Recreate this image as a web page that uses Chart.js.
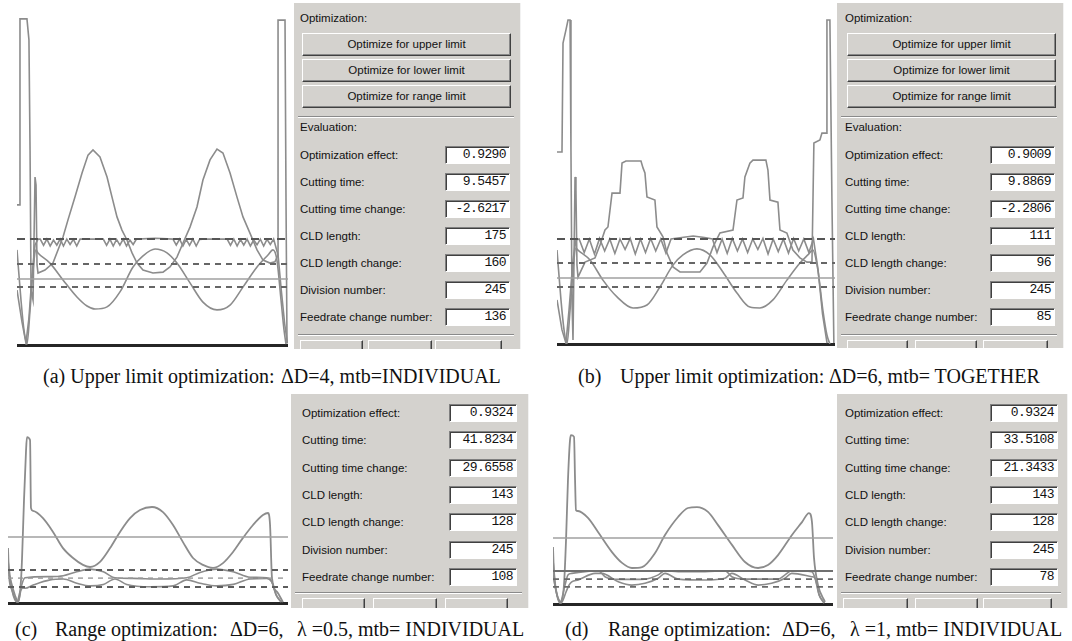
<!DOCTYPE html>
<html>
<head>
<meta charset="utf-8">
<script src="https://cdn.jsdelivr.net/npm/chart.js@4.4.0/dist/chart.umd.min.js"></script>
<style>
body { margin: 0; width: 1072px; height: 641px; background: #fff; position: relative; overflow: hidden; font-family: "Liberation Sans", Arial, sans-serif; }
canvas { position: absolute; }
.panel { position: absolute; background: #d4d2ce; overflow: hidden; font-size: 11.5px; color: #111; border-right: 1px solid #f2f2f2; }
.lbl { position: absolute; white-space: nowrap; line-height: 14px; }
.btn { position: absolute; height: 23px; box-sizing: border-box; border: 1px solid; border-color: #fff #404040 #404040 #fff; box-shadow: inset -1px -1px 0 #888; text-align: center; line-height: 20px; white-space: nowrap; }
.box { position: absolute; height: 18px; box-sizing: border-box; background: #fff; border: 1px solid; border-color: #808080 #fff #fff #808080; box-shadow: inset 1px 1px 0 #404040; text-align: right; padding-right: 3px; font-family: "Liberation Mono", monospace; font-size: 13px; letter-spacing: -0.6px; line-height: 16px; }
.sep { position: absolute; height: 0; border-top: 1px solid #8a8a8a; border-bottom: 1px solid #fff; }
.cap { position: absolute; font-family: "Liberation Serif", "Times New Roman", serif; font-size: 20px; white-space: pre; line-height: 20px; color: #111; }
</style>
</head>
<body>
<canvas id="chartA" width="271" height="348" style="left:17px;top:0px"></canvas>
<canvas id="chartB" width="278" height="347" style="left:557px;top:0px"></canvas>
<canvas id="chartC" width="280" height="216" style="left:8px;top:390px"></canvas>
<canvas id="chartD" width="280" height="217" style="left:553px;top:390px"></canvas>
<script>
// x = division index (0..245), y = feedrate level (arbitrary units)
const DIV_MAX = 245;

// (a) upper limit, dD=4, INDIVIDUAL
const aFeed = [[0,46.7],[2.7,46.7],[2.7,108.7],[9,108.7],[10.8,101.7],[11.8,65],[12.7,18.3],[14.5,15],[16.3,56],[17.2,53.3],[18.1,26.7],[19,24],[25.3,25],[32.5,27.3],[41.6,36],[46.1,41.7],[52.4,49.3],[58.8,57.3],[64.2,63.3],[68.7,65],[75,62.7],[81.4,56],[85.9,49.3],[90.4,42.7],[94.9,38.3],[99.4,35],[104,30.7],[108.5,27.3],[113.9,25],[122.9,24],[132,24.3],[138.3,26],[144.6,29.3],[150.1,34],[156.4,39.3],[162.7,46],[168.1,55],[174.5,61.7],[180.8,65.3],[186.2,64],[192.6,57.3],[198.9,49.3],[204.3,42.7],[210.6,37.3],[217,31.7],[222.4,28.3],[228.7,27.3],[233.2,27.7],[236,30],[236,108.3],[242.3,108.3],[243.2,48.3],[244.1,0.7]];
const aSine = [[0,31.7],[3.6,15],[6.3,5],[9,0.3],[11.8,11.7],[14.5,25],[17.2,31.7],[19,30.7],[29.8,27.3],[41.6,21.7],[54.2,16],[63.3,13],[70.5,12],[81.4,12.7],[93.1,17.7],[104.9,26],[113.9,29.7],[124.8,32],[135.6,30.7],[144.6,27.3],[156.4,20.7],[168.1,14.3],[180.8,11.7],[192.6,13.3],[204.3,19.3],[217,26],[226.9,30],[231.4,31.7],[235,28.3],[238.7,15],[241.4,5],[243.2,0.3]];
const aWig = [[0,18.3],[4.5,7.7],[8.1,0.7],[10.8,9],[13.6,23.3],[16.3,33.3],[19,35.3],[21,35.3],[24,33.2],[27,35.3],[30,33],[33,35],[36,33.3],[39,35.3],[42,33],[45,35.3],[48,33.5],[51,35.2],[54,33],[57,35.3],[78,35.3],[81,33.2],[84,35.3],[87,33],[90,35.2],[93,33.3],[96,35.3],[99,33],[102,35],[105,33.5],[108,35.3],[125,35.6],[141,35.3],[144,33.3],[147,35.3],[150,33],[153,35.2],[156,33.2],[159,35.3],[162,33],[165,35.2],[168,35.3],[190,35.3],[193,33.2],[196,35.3],[199,33],[202,35.2],[205,33.3],[208,35.3],[211,33],[214,35],[217,33.4],[220,35.3],[223,33],[226,35.2],[229,33.5],[232,35.3],[236,30],[239,18],[242,7],[244.5,0.5]];
const aLevels = [35.3, 27, 22, 19.3];

// (b) upper limit, dD=6, TOGETHER
const bFeed = [[0,64],[4.4,64],[5.3,100.3],[7.9,104.7],[9.7,108],[11.5,108],[12.3,64.7],[13.2,14.7],[14.1,1.3],[15.9,55.7],[16.7,51.3],[17.6,26.3],[18.5,22.3],[24.7,27.3],[33.5,28.7],[37.9,33],[42.3,38],[44.9,39],[48.5,50.3],[55.5,50.3],[57.3,60.3],[60.8,61],[74,61],[75.8,58.7],[77.5,57],[79.3,49],[86.3,48],[88.1,39],[93.4,35.7],[96.9,30.3],[102.2,25.7],[108.4,24],[126,24],[132.2,27],[137.4,32.3],[143.6,37],[155.1,38],[158.6,48],[163.9,48.7],[165.6,55.7],[170,60.3],[172.7,61.3],[184.1,61.3],[185.9,58],[187.7,48],[194.7,47.3],[196.5,38],[202.6,37],[207.9,31.3],[214.1,28.7],[220.3,27.3],[224.7,27.3],[226.4,67],[231.7,68],[233.5,70.3],[237.9,70.3],[237.9,108],[240.5,108],[242.3,48],[244,0.3]];
const bSine = [[0,31.3],[3.5,14.7],[6.2,4.7],[8.8,0],[11.5,11.3],[14.1,24.7],[16.7,32],[18.5,31.3],[29.1,28],[40.5,21.3],[52.9,15.7],[67,12],[79.3,13],[90.7,19],[102.2,26.3],[111,29.7],[123.3,31.7],[134.8,29.7],[146.2,24],[158.6,17],[170,12.3],[178.8,12],[190.3,14.7],[202.6,21.3],[214.1,27],[221.1,29.7],[225.5,31.3],[229.9,24.7],[234.3,11.3],[237.9,3],[240.5,0]];
const bWig = [[0,14.7],[4.4,4.7],[7.9,0.3],[10.6,11.3],[14.1,28],[16.7,34.7],[19.5,35],[24,30.5],[28.5,35],[33,30],[37.5,35.2],[42,31],[46.5,35],[51,30.2],[55.5,35],[60,31.5],[64.5,35.2],[69,30],[73.5,35],[78,30.5],[82.5,35.2],[87,31],[91.5,35],[96,30.3],[100.5,35],[110,35.5],[120,36],[130,35.5],[137,35],[141,30.5],[145.5,35],[150,30.2],[154.5,35.2],[159,31],[163.5,35],[168,30.5],[172.5,35],[177,31.5],[181.5,35.2],[186,30],[190.5,35],[195,30.8],[199.5,35],[204,30.3],[208.5,35.2],[213,31],[217.5,35],[222,30.5],[226,35],[230,25],[234,10],[238,0.3]];
const bLevels = [35, 27, 22, 19];

// (c) range, dD=6, lambda=0.5
const cMain = [[0,18.3],[0.9,9.3],[3.5,4.3],[8.8,0.3],[11.4,7.7],[12.3,15],[14,34.3],[15.8,51],[16.6,55.3],[19.3,54.3],[20.1,31.7],[21.9,30.7],[30.6,28.3],[39.4,23.7],[48.1,18.3],[56.9,15],[65.6,12.7],[71.8,12],[80.5,13.7],[89.3,18.3],[98,23.7],[106.8,28.3],[115.5,31],[126,32],[135.6,30.3],[144.4,26],[153.1,20.3],[161.9,15],[170.6,12.7],[179.4,11.7],[188.1,13.3],[196.9,17],[205.6,21.7],[214.4,26],[223.1,29.3],[227.5,30],[229.3,26],[231,8.3],[235.4,3.7],[240.6,0.3]];
const cUpper = [[1.1,9.3],[6.1,2.7],[9,0.4],[12,6],[14.9,8.4],[36.8,8.8],[48.4,9.1],[60.1,10.4],[71.8,11.3],[83.4,10.4],[93.6,8.4],[109.6,8.2],[133,8],[156.4,8.4],[168,10.2],[182.6,11.3],[197.1,10.4],[211.8,8.6],[226.4,8.4],[230.7,7.1],[234.5,2.7],[238.9,0.3]];
const cLower = [[0,14.3],[3.5,4.3],[7.9,0.3],[10.5,3.7],[13.1,5],[14.9,4.9],[22.1,6],[36.8,7.7],[48.4,8],[60.1,6.6],[71.8,5.7],[83.4,6.2],[93.6,8],[103.9,6.2],[124.3,5.4],[144.6,5.7],[156.4,7.7],[168,6.6],[182.6,5.7],[197.1,6.2],[211.8,8],[226.4,8.2],[230.7,7.1],[235,2.5],[239.5,0.3]];
const cLevels = [22, 11, 8.3, 5.3];

// (d) range, dD=6, lambda=1
const dMain = [[0,19],[0.9,9.7],[2.6,4.7],[7,0.7],[9.6,6.3],[11.4,21.3],[13.1,41.3],[14.9,54.7],[15.8,56.3],[18.4,55.7],[19.3,41.3],[20.1,31.3],[21.9,31],[30.6,28.7],[39.4,24],[51.6,17.3],[60.4,13.7],[69.1,12],[77.9,12.3],[89.3,17],[98,23],[109.4,29],[118.1,32],[126,32.3],[135.6,30.7],[144.4,26.3],[156.6,19.7],[168,14],[179.4,12],[188.1,13],[196.9,16.3],[209.1,23],[217.9,27.3],[224,30.3],[226.6,27.3],[228.4,15.3],[231.9,6.3],[238,0.7]];
const dUpper = [[0,14.7],[2.6,4.7],[6.1,0.3],[10.5,6.3],[13.1,9.7],[16.4,10.2],[28,10.8],[39.6,11.1],[45.5,9.1],[57.1,8.2],[80.5,8.3],[92.1,9.7],[98,11.1],[109.6,10.8],[133,10.8],[150.5,11.1],[156.4,9.1],[168,8.3],[197.1,8.3],[203,9.7],[208.9,11.1],[226.4,10.8],[229.3,8.6],[232.8,3],[237.1,0.3]];
const dLower = [[0,9.7],[3.5,3],[7,0.3],[11.4,4],[14,6.3],[16.4,7.4],[22.1,8],[36.8,10.2],[42.6,10.2],[57.1,7.4],[68.9,6.3],[80.5,6.9],[92.1,8.6],[98,10.2],[109.6,8.3],[133,8],[150.5,8.6],[156.4,10.2],[168,8],[179.6,6.3],[191.3,6.9],[203,8.6],[208.9,10.2],[226.4,9.1],[229.3,8.6],[233,3],[237.5,0.3]];
const dLevels = [22, 11, 8.3, 5.7];

// right-hand evaluation panels
const rowLabels = ['Optimization effect:', 'Cutting time:', 'Cutting time change:', 'CLD length:', 'CLD length change:', 'Division number:', 'Feedrate change number:'];
const buttonLabels = ['Optimize for upper limit', 'Optimize for lower limit', 'Optimize for range limit'];
const aValues = ['0.9290', '9.5457', '-2.6217', '175', '160', '245', '136'];
const bValues = ['0.9009', '9.8869', '-2.2806', '111', '96', '245', '85'];
const cValues = ['0.9324', '41.8234', '29.6558', '143', '128', '245', '108'];
const dValues = ['0.9324', '33.5108', '21.3433', '143', '128', '245', '78'];

const CURVE = '#8c8c8c';

function lineSet(pts, color, width, dash, smooth) {
    return {
        data: pts.map(p => ({ x: p[0], y: p[1] })),
        borderColor: color,
        borderWidth: width,
        borderDash: dash || [],
        pointRadius: 0,
        fill: false,
        tension: 0,
        cubicInterpolationMode: smooth ? 'monotone' : 'default'
    };
}

function levelSets(levels, styles) {
    return levels.map((v, i) => lineSet([[0, v], [DIV_MAX, v]], styles[i][0], styles[i][1], styles[i][2]));
}

function makeChart(id, yMax, datasets) {
    const ctx = document.getElementById(id).getContext('2d');
    return new Chart(ctx, {
        type: 'line',
        data: { datasets: datasets },
        options: {
            responsive: false,
            animation: false,
            events: [],
            layout: { padding: { left: 0, right: 0, top: 0, bottom: 3 } },
            plugins: { legend: { display: false }, tooltip: { enabled: false } },
            scales: {
                x: {
                    type: 'linear', min: 0, max: DIV_MAX,
                    grid: { display: false, drawTicks: false },
                    ticks: { display: false },
                    border: { display: true, color: '#262626', width: 3 }
                },
                y: { min: 0, max: yMax, display: false }
            }
        }
    });
}

const upperStyles = [['#555', 2, [8, 5]], ['#666', 2.2, [6, 5]], ['#a0a0a0', 1.6, []], ['#666', 2, [6, 5]]];

makeChart('chartA', 115, [
    ...levelSets(aLevels, upperStyles),
    lineSet(aWig, CURVE, 1.6),
    lineSet(aSine, CURVE, 1.6, [], true),
    lineSet(aFeed, CURVE, 1.6)
]);

makeChart('chartB', 114.67, [
    ...levelSets(bLevels, upperStyles),
    lineSet(bWig, CURVE, 1.6),
    lineSet(bSine, CURVE, 1.6, [], true),
    lineSet(bFeed, CURVE, 1.6)
]);

makeChart('chartC', 71, [
    ...levelSets(cLevels, [['#a0a0a0', 1.6, []], ['#5c5c5c', 2.2, [6, 5]], ['#9a9a9a', 1.4, [5, 5]], ['#5c5c5c', 2, [6, 5]]]),
    lineSet(cUpper, CURVE, 1.6, [], true),
    lineSet(cLower, CURVE, 1.6, [], true),
    lineSet(cMain, CURVE, 1.8, [], true)
]);

makeChart('chartD', 71.33, [
    ...levelSets(dLevels, [['#a0a0a0', 1.6, []], ['#707070', 2, []], ['#6a6a6a', 1.8, [6, 5]], ['#6a6a6a', 1.8, [6, 5]]]),
    lineSet(dUpper, CURVE, 1.6, [], true),
    lineSet(dLower, CURVE, 1.6, [], true),
    lineSet(dMain, CURVE, 1.8, [], true)
]);

// the dialog panels beside each plot
const panels = [
    { left: 294, top: 3, w: 226, h: 346, pad: 6, btnX: 8, btnW: 209, boxX: 151, boxW: 65, rowY: 152, step: 27, seps: [113, 331], foot: [[6, 63], [74, 64], [141, 67]], footY: 337, values: aValues, full: true },
    { left: 837, top: 3, w: 226, h: 345, pad: 8, btnX: 10, btnW: 209, boxX: 153, boxW: 65, rowY: 152, step: 27, seps: [113, 331], foot: [[10, 61], [78, 62], [146, 65]], footY: 337, values: bValues, full: true },
    { left: 291, top: 394, w: 237, h: 214, pad: 11, boxX: 158, boxW: 68, rowY: 19, step: 27.3, seps: [198], foot: [[11, 63], [82, 64], [154, 63]], footY: 204, values: cValues, full: false },
    { left: 837, top: 394, w: 230, h: 214, pad: 8, boxX: 153, boxW: 68, rowY: 19, step: 27.3, seps: [198], foot: [[6, 65], [78, 63], [146, 69]], footY: 204, values: dValues, full: false }
];

function addEl(parent, cls, css, text) {
    const el = document.createElement('div');
    el.className = cls;
    Object.assign(el.style, css);
    if (text !== undefined) el.textContent = text;
    parent.appendChild(el);
    return el;
}

panels.forEach(p => {
    const panel = addEl(document.body, 'panel', { left: p.left + 'px', top: p.top + 'px', width: p.w + 'px', height: p.h + 'px' });
    if (p.full) {
        addEl(panel, 'lbl', { left: p.pad + 'px', top: '8px' }, 'Optimization:');
        buttonLabels.forEach((t, i) => {
            addEl(panel, 'btn', { left: p.btnX + 'px', top: (30 + i * 26) + 'px', width: p.btnW + 'px' }, t);
        });
        addEl(panel, 'lbl', { left: p.pad + 'px', top: '117px' }, 'Evaluation:');
    }
    p.seps.forEach(y => addEl(panel, 'sep', { left: '4px', top: y + 'px', width: (p.w - 10) + 'px' }));
    rowLabels.forEach((t, i) => {
        const cy = p.rowY + i * p.step;
        addEl(panel, 'lbl', { left: p.pad + 'px', top: (cy - 7) + 'px' }, t);
        addEl(panel, 'box', { left: p.boxX + 'px', top: (cy - 9) + 'px', width: p.boxW + 'px' }, p.values[i]);
    });
    p.foot.forEach(f => addEl(panel, 'btn', { left: f[0] + 'px', top: p.footY + 'px', width: f[1] + 'px' }));
});

// figure captions
const captions = [
    ['(a) Upper limit optimization:', 43, 366], ['\u0394D=4, mtb=INDIVIDUAL', 281, 366],
    ['(b)', 578, 366], ['Upper limit optimization:', 620, 366], ['\u0394D=6, mtb= TOGETHER', 829, 366],
    ['(c)', 15, 619], ['Range optimization:', 55, 619], ['\u0394D=6,', 230, 619], ['\u03bb =0.5, mtb= INDIVIDUAL', 297, 619],
    ['(d)', 565, 619], ['Range optimization:', 608, 619], ['\u0394D=6,', 782, 619], ['\u03bb =1, mtb= INDIVIDUAL', 850, 619]
];
captions.forEach(c => addEl(document.body, 'cap', { left: c[1] + 'px', top: c[2] + 'px' }, c[0]));
</script>
</body>
</html>
